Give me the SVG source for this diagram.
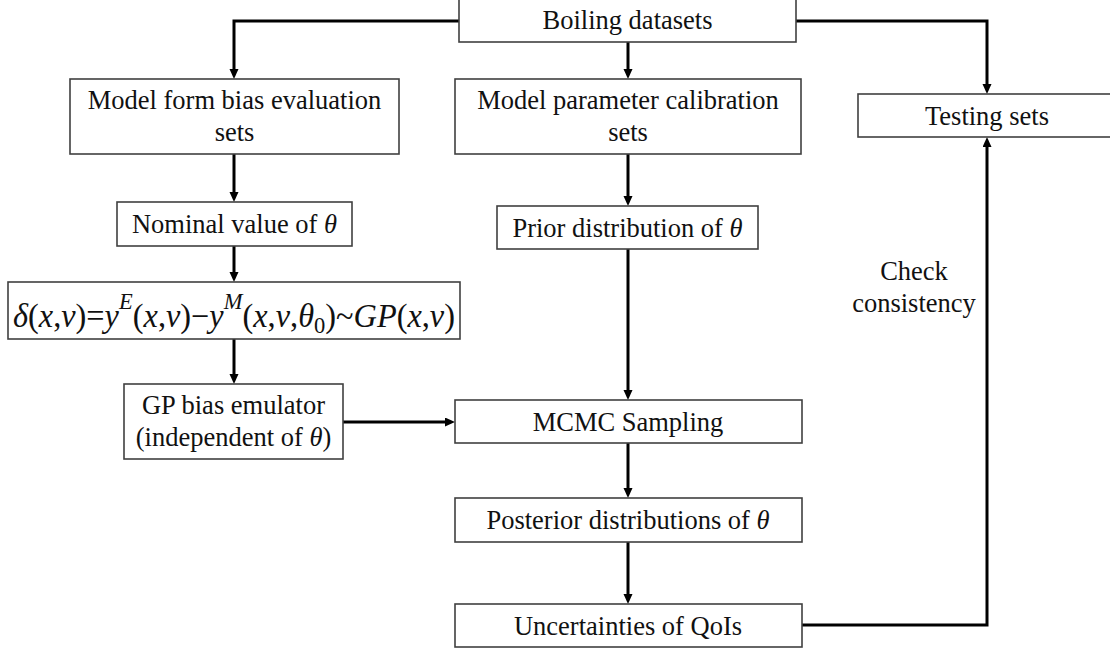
<svg xmlns="http://www.w3.org/2000/svg" width="1110" height="649" viewBox="0 0 1110 649">
  <style>
    .box { fill: #ffffff; stroke: #404040; stroke-width: 1.6; }
    .lbl { font-family: 'Liberation Serif', 'DejaVu Serif', serif; font-size: 26.5px; fill: #111111; text-anchor: middle; }
    .it { font-style: italic; }
    .math { font-family: 'Liberation Serif', 'DejaVu Serif', serif; font-size: 33px; fill: #111111; }
    .conn { fill: none; stroke: #000000; stroke-width: 3; }
  </style>
  <defs>
    <marker id="arrow" markerUnits="userSpaceOnUse" markerWidth="11" markerHeight="10" refX="2" refY="4.5" orient="auto">
      <path d="M0,0 L10,4.5 L0,9 z" fill="#000000"/>
    </marker>
  </defs>

  <rect width="1110" height="649" fill="#ffffff"/>

  <!-- connectors (each ends 8px short of its target; the arrowhead covers the rest) -->
  <g id="connectors">
    <path class="conn" d="M459,21 H234 V71" marker-end="url(#arrow)"/>
    <path class="conn" d="M628,42 V71" marker-end="url(#arrow)"/>
    <path class="conn" d="M796,21 H987 V86" marker-end="url(#arrow)"/>
    <path class="conn" d="M234,154 V194" marker-end="url(#arrow)"/>
    <path class="conn" d="M234,246 V274" marker-end="url(#arrow)"/>
    <path class="conn" d="M234,339 V376" marker-end="url(#arrow)"/>
    <path class="conn" d="M343,422 H447" marker-end="url(#arrow)"/>
    <path class="conn" d="M628,154 V198" marker-end="url(#arrow)"/>
    <path class="conn" d="M628,249 V392" marker-end="url(#arrow)"/>
    <path class="conn" d="M628,443 V490" marker-end="url(#arrow)"/>
    <path class="conn" d="M628,542 V596" marker-end="url(#arrow)"/>
    <path class="conn" d="M802,625 H987 V145" marker-end="url(#arrow)"/>
  </g>

  <g id="boiling">
    <rect class="box" x="459" y="-1" width="337" height="43"/>
    <text class="lbl" x="627.5" y="29">Boiling datasets</text>
  </g>

  <g id="form-bias-sets">
    <rect class="box" x="70" y="79" width="329" height="75"/>
    <text class="lbl" x="234.5" y="109">Model form bias evaluation</text>
    <text class="lbl" x="234.5" y="141">sets</text>
  </g>

  <g id="calibration-sets">
    <rect class="box" x="455" y="79" width="346" height="75"/>
    <text class="lbl" x="628" y="109">Model parameter calibration</text>
    <text class="lbl" x="628" y="141">sets</text>
  </g>

  <g id="testing-sets">
    <rect class="box" x="858" y="94" width="262" height="43"/>
    <text class="lbl" x="987" y="125">Testing sets</text>
  </g>

  <g id="nominal">
    <rect class="box" x="117" y="202" width="235" height="44"/>
    <text class="lbl" x="234.5" y="233">Nominal value of <tspan class="it">θ</tspan></text>
  </g>

  <g id="bias-formula">
    <rect class="box" x="8" y="282" width="452" height="57"/>
    <text class="math" x="13" y="327" textLength="442" lengthAdjust="spacingAndGlyphs"><tspan class="it">δ</tspan>(<tspan class="it">x</tspan>,<tspan class="it">ν</tspan>)=<tspan class="it">y</tspan><tspan class="it" font-size="23" dy="-18">E</tspan><tspan dy="18">(</tspan><tspan class="it">x</tspan>,<tspan class="it">ν</tspan>)−<tspan class="it">y</tspan><tspan class="it" font-size="23" dy="-18">M</tspan><tspan dy="18">(</tspan><tspan class="it">x</tspan>,<tspan class="it">ν</tspan>,<tspan class="it">θ</tspan><tspan font-size="23" dy="6">0</tspan><tspan dy="-6">)~</tspan><tspan class="it">GP</tspan>(<tspan class="it">x</tspan>,<tspan class="it">ν</tspan>)</text>
  </g>

  <g id="gp-emulator">
    <rect class="box" x="124" y="384" width="219" height="75"/>
    <text class="lbl" x="233.5" y="414">GP bias emulator</text>
    <text class="lbl" x="233.5" y="446">(independent of <tspan class="it">θ</tspan>)</text>
  </g>

  <g id="prior">
    <rect class="box" x="497" y="206" width="261" height="43"/>
    <text class="lbl" x="627.5" y="237">Prior distribution of <tspan class="it">θ</tspan></text>
  </g>

  <g id="mcmc">
    <rect class="box" x="455" y="400" width="347" height="43"/>
    <text class="lbl" x="628" y="431">MCMC Sampling</text>
  </g>

  <g id="posterior">
    <rect class="box" x="455" y="498" width="347" height="44"/>
    <text class="lbl" x="628" y="529">Posterior distributions of <tspan class="it">θ</tspan></text>
  </g>

  <g id="uncertainties">
    <rect class="box" x="455" y="604" width="347" height="43"/>
    <text class="lbl" x="628" y="635">Uncertainties of QoIs</text>
  </g>

  <g id="check-label">
    <text class="lbl" x="914" y="280">Check</text>
    <text class="lbl" x="914" y="312">consistency</text>
  </g>
</svg>
